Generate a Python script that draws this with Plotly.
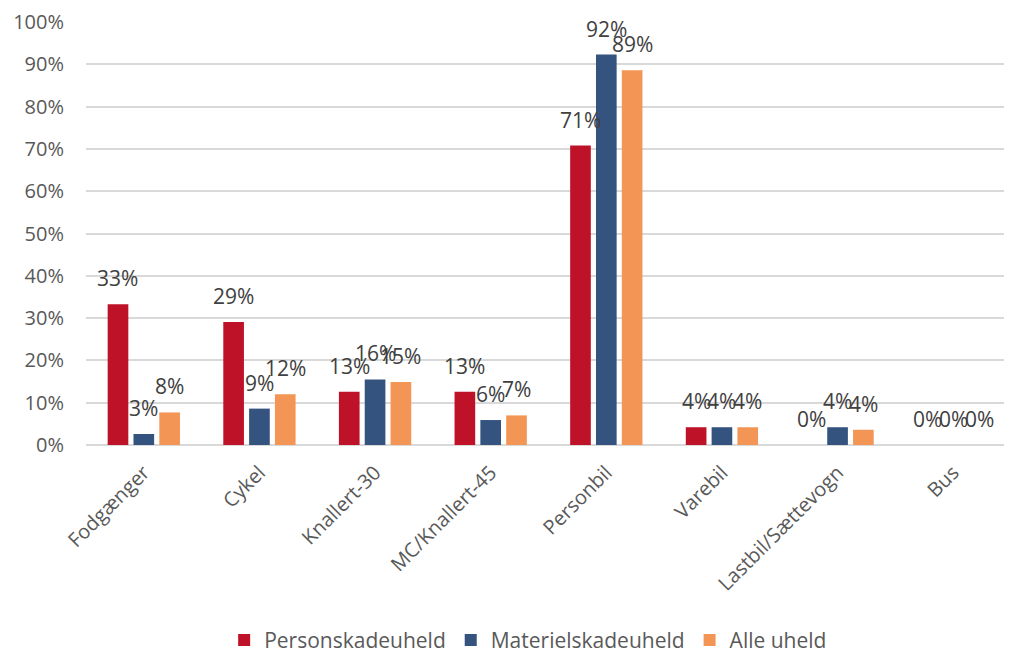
import plotly.graph_objects as go

categories = ["Fodgænger", "Cykel", "Knallert-30", "MC/Knallert-45", "Personbil", "Varebil", "Lastbil/Sættevogn", "Bus"]
personskade = [0.333, 0.291, 0.126, 0.126, 0.708, 0.042, 0.0, 0.0]
materielskade = [0.026, 0.086, 0.155, 0.059, 0.923, 0.042, 0.042, 0.0]
alle = [0.077, 0.120, 0.149, 0.070, 0.886, 0.042, 0.036, 0.0]
series_names = ["Personskadeuheld", "Materielskadeuheld", "Alle uheld"]
colors = ["#BE1229", "#34537F", "#F39655"]

FONT = "Open Sans"
# the page adds an 8px body margin, so the figure is drawn 8px smaller
W, H = 1004, 646
ML, MR, MT, MB = 78, 1, 14, 209
BARGAP, GROUPGAP = 0.33, 0.2

fig = go.Figure()
all_series = [personskade, materielskade, alle]
for name, vals, col in zip(series_names, all_series, colors):
    fig.add_trace(go.Bar(
        x=categories, y=vals, name=name, marker=dict(color=col, line=dict(width=0)),
    ))

# data labels, placed above each bar like the original
cat_px = (W - ML - MR) / len(categories)
slot_px = cat_px * (1 - BARGAP) / len(all_series)
for i, vals in enumerate(all_series):
    offset = (i - (len(all_series) - 1) / 2) * slot_px
    for c, v in zip(categories, vals):
        fig.add_annotation(x=c, y=v, xref="x", yref="y", text=f"{int(v * 100 + 0.5):d}%",
                           showarrow=False, xshift=offset, yshift=26, yanchor="middle",
                           font=dict(family=FONT, size=21, color="#404040"))

fig.update_layout(
    width=W, height=H,
    margin=dict(l=ML, r=MR, t=MT, b=MB, autoexpand=False),
    paper_bgcolor="white", plot_bgcolor="white",
    barmode="group", bargap=BARGAP, bargroupgap=GROUPGAP,
    font=dict(family=FONT, size=20, color="#595959"),
    showlegend=True,
    legend=dict(orientation="h", xref="paper", yref="paper", x=0.478, y=-0.462,
                xanchor="center", yanchor="middle", font=dict(family=FONT, size=21, color="#595959"),
                itemwidth=30, traceorder="normal"),
    xaxis=dict(tickangle=-45, showline=False, ticks="", automargin=False, ticklabelstandoff=11,
               tickfont=dict(family=FONT, size=20, color="#595959")),
    yaxis=dict(range=[0, 1.0], dtick=0.1, tickformat=".0%", showgrid=True, gridcolor="#D9D9D9",
               gridwidth=1.5, zeroline=True, zerolinecolor="#D9D9D9", zerolinewidth=1.5,
               ticks="", ticklabelstandoff=21, automargin=False,
               tickfont=dict(family=FONT, size=20, color="#595959")),
)

fig.write_html("out.html")
